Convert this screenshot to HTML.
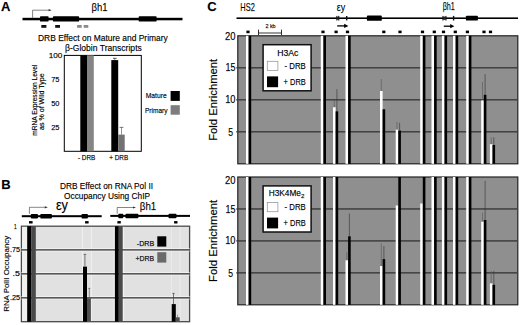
<!DOCTYPE html>
<html><head><meta charset="utf-8"><style>
html,body{margin:0;padding:0;background:#fff;width:520px;height:325px;overflow:hidden}
svg{display:block}
text{font-family:"Liberation Sans", sans-serif;stroke:#000;stroke-width:0.25px;stroke-opacity:0.6}
</style></head><body>
<svg width="520" height="325" viewBox="0 0 520 325">
<text x="0.90" y="10.80" font-size="13" fill="#000" text-anchor="start" font-weight="bold" >A</text>
<rect x="22.50" y="17.80" width="160.00" height="2.50" fill="#000" />
<rect x="40.00" y="16.20" width="8.60" height="5.40" rx="0.9" fill="#000"/>
<rect x="52.90" y="16.20" width="26.20" height="5.40" rx="0.9" fill="#000"/>
<rect x="138.70" y="16.20" width="17.90" height="5.40" rx="0.9" fill="#000"/>
<polyline points="32.60,17.80 32.60,10.20 49.60,10.20" fill="none" stroke="#333" stroke-width="0.6"/>
<path d="M51.60,10.20 L48.60,9.10 L48.60,11.30 Z" fill="#333"/>
<text x="91.60" y="10.90" font-size="11" fill="#000" text-anchor="start" font-weight="normal" textLength="16.00" lengthAdjust="spacingAndGlyphs" >βh1</text>
<rect x="41.30" y="25.00" width="5.10" height="2.80" fill="#111" />
<rect x="55.20" y="25.00" width="4.80" height="2.80" fill="#111" />
<rect x="77.10" y="25.00" width="4.60" height="2.80" fill="#8a8a8a" />
<rect x="83.70" y="25.00" width="4.60" height="2.80" fill="#8a8a8a" />
<text x="38.00" y="40.60" font-size="8.8" fill="#000" text-anchor="start" font-weight="normal" textLength="129.80" lengthAdjust="spacingAndGlyphs" >DRB Effect on Mature and Primary</text>
<text x="65.00" y="50.70" font-size="8.8" fill="#000" text-anchor="start" font-weight="normal" textLength="76.80" lengthAdjust="spacingAndGlyphs" >β-Globin Transcripts</text>
<rect x="64.30" y="55.40" width="77.00" height="95.90" fill="#fff" stroke="#000" stroke-width="1"/>
<text x="48.70" y="58.30" font-size="7.7" fill="#000" text-anchor="start" font-weight="normal" textLength="13.70" lengthAdjust="spacingAndGlyphs" >100</text>
<text x="51.20" y="82.00" font-size="7.7" fill="#000" text-anchor="start" font-weight="normal" textLength="8.30" lengthAdjust="spacingAndGlyphs" >75</text>
<text x="51.20" y="106.00" font-size="7.7" fill="#000" text-anchor="start" font-weight="normal" textLength="8.30" lengthAdjust="spacingAndGlyphs" >50</text>
<text x="51.20" y="130.00" font-size="7.7" fill="#000" text-anchor="start" font-weight="normal" textLength="8.30" lengthAdjust="spacingAndGlyphs" >25</text>
<rect x="80.30" y="55.40" width="6.70" height="95.90" fill="#000" />
<rect x="87.00" y="55.40" width="6.80" height="95.90" fill="#858585" />
<rect x="111.30" y="60.10" width="6.90" height="91.20" fill="#000" />
<rect x="118.20" y="134.60" width="6.50" height="16.70" fill="#727272" />
<line x1="114.80" y1="58.30" x2="114.80" y2="60.10" stroke="#333" stroke-width="0.6" />
<line x1="113.00" y1="58.30" x2="116.60" y2="58.30" stroke="#333" stroke-width="0.8" />
<line x1="121.50" y1="127.40" x2="121.50" y2="134.60" stroke="#666" stroke-width="0.7" />
<line x1="119.60" y1="127.40" x2="123.40" y2="127.40" stroke="#555" stroke-width="0.8" />
<text x="77.90" y="159.50" font-size="6.5" fill="#000" text-anchor="start" font-weight="normal" textLength="17.50" lengthAdjust="spacingAndGlyphs" >- DRB</text>
<text x="109.20" y="159.50" font-size="6.5" fill="#000" text-anchor="start" font-weight="normal" textLength="19.00" lengthAdjust="spacingAndGlyphs" >+ DRB</text>
<text x="145.70" y="98.40" font-size="7.8" fill="#000" text-anchor="start" font-weight="normal" textLength="21.00" lengthAdjust="spacingAndGlyphs" >Mature</text>
<rect x="170.60" y="91.00" width="9.20" height="9.90" fill="#000" />
<text x="145.00" y="112.80" font-size="7.8" fill="#000" text-anchor="start" font-weight="normal" textLength="22.50" lengthAdjust="spacingAndGlyphs" >Primary</text>
<rect x="170.60" y="105.20" width="9.20" height="9.50" fill="#7d7d7d" />
<text transform="translate(36.80,100.20) rotate(-90)" x="-35.50" y="0" font-size="6.3" fill="#000" textLength="71.00" lengthAdjust="spacingAndGlyphs">mRNA Expression Level</text>
<text transform="translate(44.40,101.70) rotate(-90)" x="-28.30" y="0" font-size="6.3" fill="#000" textLength="56.60" lengthAdjust="spacingAndGlyphs">as % of Wild Type</text>
<text x="1.20" y="189.30" font-size="13" fill="#000" text-anchor="start" font-weight="bold" >B</text>
<text x="60.00" y="188.70" font-size="8.8" fill="#000" text-anchor="start" font-weight="normal" textLength="93.00" lengthAdjust="spacingAndGlyphs" >DRB Effect on RNA Pol II</text>
<text x="64.10" y="198.80" font-size="8.8" fill="#000" text-anchor="start" font-weight="normal" textLength="85.90" lengthAdjust="spacingAndGlyphs" >Occupancy Using ChIP</text>
<rect x="21.80" y="215.20" width="79.90" height="2.00" fill="#000" />
<rect x="30.80" y="213.90" width="7.20" height="4.60" rx="0.9" fill="#000"/>
<rect x="40.30" y="213.90" width="11.60" height="4.60" rx="0.9" fill="#000"/>
<rect x="81.50" y="213.90" width="6.40" height="4.60" rx="0.9" fill="#000"/>
<polyline points="29.40,213.90 29.40,207.30 45.80,207.30" fill="none" stroke="#333" stroke-width="0.6"/>
<path d="M47.80,207.30 L44.80,206.20 L44.80,208.40 Z" fill="#333"/>
<text x="55.90" y="209.80" font-size="14" fill="#000" text-anchor="start" font-weight="normal" textLength="12.10" lengthAdjust="spacingAndGlyphs" >εy</text>
<rect x="29.00" y="221.10" width="3.60" height="2.40" fill="#000" />
<rect x="85.10" y="221.10" width="3.50" height="2.40" fill="#000" />
<rect x="110.30" y="214.90" width="79.70" height="2.00" fill="#000" />
<rect x="118.30" y="213.80" width="5.00" height="4.40" rx="0.9" fill="#000"/>
<rect x="125.40" y="213.80" width="13.00" height="4.40" rx="0.9" fill="#000"/>
<rect x="168.50" y="213.80" width="8.00" height="4.40" rx="0.9" fill="#000"/>
<polyline points="117.20,213.80 117.20,207.50 134.00,207.50" fill="none" stroke="#333" stroke-width="0.6"/>
<path d="M136.00,207.50 L133.00,206.40 L133.00,208.60 Z" fill="#333"/>
<text x="139.80" y="209.80" font-size="11" fill="#000" text-anchor="start" font-weight="normal" textLength="16.40" lengthAdjust="spacingAndGlyphs" >βh1</text>
<rect x="117.40" y="221.10" width="3.40" height="2.40" fill="#000" />
<rect x="174.10" y="221.10" width="3.40" height="2.40" fill="#000" />
<rect x="21.40" y="226.20" width="168.20" height="95.50" fill="#e1e1e1" stroke="#4a4a4a" stroke-width="1.3"/>
<rect x="82.20" y="226.90" width="0.80" height="94.10" fill="#f4f4f4" />
<rect x="90.90" y="226.90" width="0.80" height="94.10" fill="#f4f4f4" />
<rect x="171.00" y="226.90" width="0.70" height="94.10" fill="#f0f0f0" />
<rect x="179.70" y="226.90" width="0.70" height="94.10" fill="#f0f0f0" />
<rect x="113.60" y="226.90" width="1.30" height="94.10" fill="#f0f0f0" />
<rect x="122.70" y="226.90" width="1.40" height="94.10" fill="#f0f0f0" />
<rect x="22.10" y="226.90" width="5.10" height="94.10" fill="#f0f0f0" />
<rect x="21.40" y="248.25" width="168.20" height="0.80" fill="#f3f3f3" />
<rect x="21.40" y="250.65" width="168.20" height="0.80" fill="#f3f3f3" />
<rect x="21.40" y="249.05" width="168.20" height="1.60" fill="#595959" />
<rect x="21.40" y="272.20" width="168.20" height="0.80" fill="#f3f3f3" />
<rect x="21.40" y="274.60" width="168.20" height="0.80" fill="#f3f3f3" />
<rect x="21.40" y="273.00" width="168.20" height="1.60" fill="#595959" />
<rect x="21.40" y="296.20" width="168.20" height="0.80" fill="#f3f3f3" />
<rect x="21.40" y="298.60" width="168.20" height="0.80" fill="#f3f3f3" />
<rect x="21.40" y="297.00" width="168.20" height="1.60" fill="#595959" />
<rect x="27.20" y="226.20" width="4.30" height="95.50" fill="#000" />
<rect x="31.50" y="226.20" width="4.30" height="95.50" fill="#4a4a4a" />
<rect x="83.00" y="266.60" width="4.00" height="55.10" fill="#000" />
<rect x="87.00" y="298.20" width="3.90" height="23.50" fill="#505050" />
<line x1="84.90" y1="254.40" x2="84.90" y2="266.20" stroke="#444" stroke-width="0.7" />
<line x1="83.60" y1="254.40" x2="86.20" y2="254.40" stroke="#444" stroke-width="0.7" />
<line x1="89.30" y1="288.40" x2="89.30" y2="298.00" stroke="#666" stroke-width="0.7" />
<line x1="88.20" y1="288.40" x2="90.40" y2="288.40" stroke="#666" stroke-width="0.7" />
<rect x="114.90" y="226.20" width="3.90" height="95.50" fill="#000" />
<rect x="118.80" y="226.20" width="3.90" height="95.50" fill="#4a4a4a" />
<rect x="171.70" y="304.10" width="4.10" height="17.60" fill="#000" />
<rect x="175.80" y="317.30" width="3.90" height="4.40" fill="#505050" />
<line x1="173.50" y1="293.40" x2="173.50" y2="304.10" stroke="#444" stroke-width="0.7" />
<line x1="172.30" y1="293.40" x2="174.70" y2="293.40" stroke="#444" stroke-width="0.7" />
<line x1="177.50" y1="314.50" x2="177.50" y2="317.30" stroke="#666" stroke-width="0.6" />
<text x="13.90" y="228.90" font-size="6.6" fill="#000" text-anchor="start" font-weight="normal" textLength="2.70" lengthAdjust="spacingAndGlyphs" >1</text>
<text x="9.90" y="252.30" font-size="6.5" fill="#000" text-anchor="start" font-weight="normal" textLength="10.10" lengthAdjust="spacingAndGlyphs" >.75</text>
<text x="12.60" y="276.30" font-size="6.5" fill="#000" text-anchor="start" font-weight="normal" textLength="7.40" lengthAdjust="spacingAndGlyphs" >.5</text>
<text x="9.90" y="300.20" font-size="6.5" fill="#000" text-anchor="start" font-weight="normal" textLength="10.10" lengthAdjust="spacingAndGlyphs" >.25</text>
<text x="136.80" y="245.50" font-size="8.1" fill="#000" text-anchor="start" font-weight="normal" textLength="17.40" lengthAdjust="spacingAndGlyphs" >-DRB</text>
<rect x="157.30" y="236.30" width="9.00" height="10.30" fill="#000" />
<text x="135.50" y="260.80" font-size="8.1" fill="#000" text-anchor="start" font-weight="normal" textLength="18.70" lengthAdjust="spacingAndGlyphs" >+DRB</text>
<rect x="157.30" y="252.20" width="9.00" height="10.40" fill="#6a6a6a" />
<text transform="translate(8.70,273.80) rotate(-90)" x="-38.00" y="0" font-size="7.8" fill="#000" textLength="76.00" lengthAdjust="spacingAndGlyphs">RNA PolII Occupancy</text>
<text x="207.30" y="10.90" font-size="13" fill="#000" text-anchor="start" font-weight="bold" >C</text>
<text x="240.30" y="10.60" font-size="11.6" fill="#000" text-anchor="start" font-weight="normal" textLength="14.50" lengthAdjust="spacingAndGlyphs" >HS2</text>
<rect x="236.50" y="17.40" width="281.50" height="1.60" fill="#000" />
<rect x="336.30" y="15.90" width="1.10" height="4.60" fill="#111" />
<rect x="338.20" y="15.90" width="1.10" height="4.60" fill="#111" />
<rect x="337.20" y="16.80" width="1.20" height="2.80" fill="#222" />
<rect x="346.00" y="16.00" width="1.40" height="4.40" fill="#111" />
<rect x="366.90" y="15.50" width="14.90" height="5.30" rx="0.9" fill="#000"/>
<rect x="442.40" y="15.90" width="1.10" height="4.60" fill="#111" />
<rect x="445.40" y="15.90" width="1.10" height="4.60" fill="#111" />
<rect x="443.30" y="16.60" width="2.30" height="3.20" fill="#222" />
<rect x="452.90" y="15.90" width="1.40" height="4.60" fill="#111" />
<rect x="465.90" y="15.70" width="12.00" height="4.90" rx="0.9" fill="#000"/>
<text x="336.70" y="10.70" font-size="10.5" fill="#000" text-anchor="start" font-weight="normal" textLength="8.50" lengthAdjust="spacingAndGlyphs" >εy</text>
<text x="442.70" y="10.00" font-size="10.8" fill="#000" text-anchor="start" font-weight="normal" textLength="12.10" lengthAdjust="spacingAndGlyphs" >βh1</text>
<line x1="337.20" y1="25.90" x2="345.50" y2="25.90" stroke="#000" stroke-width="1.3" />
<path d="M348.4,25.9 L344.2,23.8 L344.2,28.0 Z" fill="#000"/>
<line x1="443.80" y1="26.20" x2="451.50" y2="26.20" stroke="#000" stroke-width="1.3" />
<path d="M454.4,26.2 L450.2,24.1 L450.2,28.3 Z" fill="#000"/>
<line x1="258.50" y1="33.00" x2="281.50" y2="33.00" stroke="#000" stroke-width="0.8" />
<line x1="258.50" y1="29.60" x2="258.50" y2="35.00" stroke="#000" stroke-width="0.8" />
<line x1="281.50" y1="29.60" x2="281.50" y2="35.00" stroke="#000" stroke-width="0.8" />
<text x="265.40" y="27.50" font-size="6.0" fill="#000" text-anchor="start" font-weight="normal" textLength="10.20" lengthAdjust="spacingAndGlyphs" >2 kb</text>
<rect x="246.40" y="30.60" width="3.20" height="2.60" fill="#000" />
<rect x="321.40" y="30.60" width="3.20" height="2.60" fill="#000" />
<rect x="334.50" y="30.60" width="3.20" height="2.60" fill="#000" />
<rect x="345.90" y="30.60" width="3.20" height="2.60" fill="#000" />
<rect x="382.20" y="30.60" width="3.20" height="2.60" fill="#000" />
<rect x="398.40" y="30.60" width="3.20" height="2.60" fill="#000" />
<rect x="420.90" y="30.60" width="3.20" height="2.60" fill="#000" />
<rect x="432.70" y="30.60" width="3.20" height="2.60" fill="#000" />
<rect x="441.90" y="30.60" width="3.20" height="2.60" fill="#000" />
<rect x="453.70" y="30.60" width="3.20" height="2.60" fill="#000" />
<rect x="465.80" y="30.60" width="3.20" height="2.60" fill="#000" />
<rect x="482.40" y="30.60" width="3.20" height="2.60" fill="#000" />
<rect x="488.90" y="30.60" width="3.20" height="2.60" fill="#000" />
<rect x="237.80" y="35.80" width="280.00" height="128.00" fill="#8f8f8f" stroke="#222" stroke-width="1.2"/>
<rect x="236.30" y="67.10" width="281.50" height="1.40" fill="#3a3a3a" />
<rect x="236.30" y="99.10" width="281.50" height="1.40" fill="#3a3a3a" />
<rect x="236.30" y="131.10" width="281.50" height="1.40" fill="#3a3a3a" />
<rect x="246.00" y="35.80" width="2.60" height="128.00" fill="#fff" />
<rect x="248.60" y="35.80" width="2.60" height="128.00" fill="#000" />
<rect x="320.80" y="35.80" width="2.60" height="128.00" fill="#fff" />
<rect x="323.40" y="35.80" width="2.60" height="128.00" fill="#000" />
<line x1="334.30" y1="100.70" x2="334.30" y2="107.29" stroke="#555" stroke-width="0.6" />
<rect x="333.00" y="107.29" width="2.60" height="56.51" fill="#fff" />
<line x1="336.90" y1="89.11" x2="336.90" y2="111.32" stroke="#333" stroke-width="0.6" />
<rect x="335.60" y="111.32" width="2.60" height="52.48" fill="#000" />
<rect x="345.50" y="35.80" width="2.60" height="128.00" fill="#fff" />
<rect x="348.10" y="35.80" width="2.60" height="128.00" fill="#000" />
<line x1="381.30" y1="79.00" x2="381.30" y2="91.00" stroke="#555" stroke-width="0.6" />
<rect x="380.00" y="91.00" width="2.60" height="72.80" fill="#fff" />
<rect x="382.60" y="109.27" width="2.60" height="54.53" fill="#000" />
<line x1="397.00" y1="121.88" x2="397.00" y2="129.69" stroke="#555" stroke-width="0.6" />
<rect x="395.70" y="129.69" width="2.60" height="34.11" fill="#fff" />
<line x1="399.60" y1="122.84" x2="399.60" y2="130.52" stroke="#333" stroke-width="0.6" />
<rect x="398.30" y="130.52" width="2.60" height="33.28" fill="#000" />
<rect x="420.20" y="35.80" width="2.60" height="128.00" fill="#fff" />
<rect x="422.80" y="35.80" width="2.60" height="128.00" fill="#000" />
<rect x="431.50" y="35.80" width="2.60" height="128.00" fill="#fff" />
<rect x="434.10" y="35.80" width="2.60" height="128.00" fill="#000" />
<rect x="441.90" y="35.80" width="2.60" height="128.00" fill="#fff" />
<rect x="444.50" y="35.80" width="2.60" height="128.00" fill="#000" />
<rect x="453.00" y="35.80" width="2.60" height="128.00" fill="#fff" />
<rect x="455.60" y="35.80" width="2.60" height="128.00" fill="#000" />
<rect x="466.20" y="35.80" width="2.60" height="128.00" fill="#fff" />
<rect x="468.80" y="35.80" width="2.60" height="128.00" fill="#000" />
<line x1="482.50" y1="82.01" x2="482.50" y2="100.44" stroke="#555" stroke-width="0.6" />
<rect x="481.20" y="100.44" width="2.60" height="63.36" fill="#fff" />
<line x1="485.10" y1="74.20" x2="485.10" y2="94.81" stroke="#333" stroke-width="0.6" />
<rect x="483.80" y="94.81" width="2.60" height="68.99" fill="#000" />
<line x1="491.20" y1="137.30" x2="491.20" y2="144.22" stroke="#555" stroke-width="0.6" />
<rect x="489.90" y="144.22" width="2.60" height="19.58" fill="#fff" />
<line x1="493.80" y1="137.30" x2="493.80" y2="144.98" stroke="#333" stroke-width="0.6" />
<rect x="492.50" y="144.98" width="2.60" height="18.82" fill="#000" />
<text x="225.00" y="39.70" font-size="10.0" fill="#000" text-anchor="start" font-weight="normal" textLength="10.50" lengthAdjust="spacingAndGlyphs" >20</text>
<text x="225.60" y="71.40" font-size="10.0" fill="#000" text-anchor="start" font-weight="normal" textLength="9.90" lengthAdjust="spacingAndGlyphs" >15</text>
<text x="225.20" y="103.10" font-size="10.0" fill="#000" text-anchor="start" font-weight="normal" textLength="10.30" lengthAdjust="spacingAndGlyphs" >10</text>
<text x="228.30" y="135.70" font-size="10.0" fill="#000" text-anchor="start" font-weight="normal" textLength="4.80" lengthAdjust="spacingAndGlyphs" >5</text>
<rect x="263.10" y="44.70" width="48.00" height="46.10" fill="#fff" stroke="#111" stroke-width="1.5"/>
<rect x="267.30" y="61.30" width="10.60" height="9.20" fill="#fff" stroke="#999" stroke-width="0.8"/>
<rect x="267.00" y="76.40" width="11.10" height="10.80" fill="#000" />
<text x="284.60" y="68.80" font-size="8.6" fill="#000" text-anchor="start" font-weight="normal" textLength="21.20" lengthAdjust="spacingAndGlyphs" >- DRB</text>
<text x="283.60" y="84.60" font-size="8.6" fill="#000" text-anchor="start" font-weight="normal" textLength="22.20" lengthAdjust="spacingAndGlyphs" >+ DRB</text>
<text x="277.20" y="56.30" font-size="8.2" fill="#000" text-anchor="start" font-weight="normal" textLength="21.20" lengthAdjust="spacingAndGlyphs" >H3Ac</text>
<text transform="translate(217.20,99.80) rotate(-90)" x="-41.00" y="0" font-size="10" fill="#000" textLength="82.00" lengthAdjust="spacingAndGlyphs">Fold Enrichment</text>
<rect x="237.80" y="177.00" width="280.00" height="127.80" fill="#8f8f8f" stroke="#222" stroke-width="1.2"/>
<rect x="236.30" y="208.25" width="281.50" height="1.40" fill="#3a3a3a" />
<rect x="236.30" y="240.20" width="281.50" height="1.40" fill="#3a3a3a" />
<rect x="236.30" y="272.15" width="281.50" height="1.40" fill="#3a3a3a" />
<rect x="246.00" y="177.00" width="2.60" height="127.80" fill="#fff" />
<rect x="248.60" y="177.00" width="2.60" height="127.80" fill="#000" />
<rect x="320.80" y="177.00" width="2.60" height="127.80" fill="#fff" />
<rect x="323.40" y="177.00" width="2.60" height="127.80" fill="#000" />
<rect x="333.00" y="177.00" width="2.60" height="127.80" fill="#fff" />
<rect x="335.60" y="177.00" width="2.60" height="127.80" fill="#000" />
<line x1="346.80" y1="252.40" x2="346.80" y2="260.33" stroke="#555" stroke-width="0.6" />
<rect x="345.50" y="260.33" width="2.60" height="44.47" fill="#fff" />
<line x1="349.40" y1="213.49" x2="349.40" y2="236.30" stroke="#333" stroke-width="0.6" />
<rect x="348.10" y="236.30" width="2.60" height="68.50" fill="#000" />
<line x1="381.30" y1="243.58" x2="381.30" y2="266.08" stroke="#555" stroke-width="0.6" />
<rect x="380.00" y="266.08" width="2.60" height="38.72" fill="#fff" />
<line x1="383.90" y1="246.01" x2="383.90" y2="259.11" stroke="#333" stroke-width="0.6" />
<rect x="382.60" y="259.11" width="2.60" height="45.69" fill="#000" />
<rect x="395.70" y="205.50" width="2.60" height="99.30" fill="#fff" />
<rect x="398.30" y="177.00" width="2.60" height="127.80" fill="#000" />
<rect x="420.20" y="203.52" width="2.60" height="101.28" fill="#fff" />
<rect x="422.80" y="177.00" width="2.60" height="127.80" fill="#000" />
<rect x="431.50" y="177.00" width="2.60" height="127.80" fill="#fff" />
<rect x="434.10" y="177.00" width="2.60" height="127.80" fill="#000" />
<rect x="441.90" y="177.00" width="2.60" height="127.80" fill="#fff" />
<rect x="444.50" y="177.00" width="2.60" height="127.80" fill="#000" />
<rect x="453.00" y="177.00" width="2.60" height="127.80" fill="#fff" />
<rect x="455.60" y="177.00" width="2.60" height="127.80" fill="#000" />
<rect x="466.20" y="177.00" width="2.60" height="127.80" fill="#fff" />
<rect x="468.80" y="177.00" width="2.60" height="127.80" fill="#000" />
<line x1="482.50" y1="212.78" x2="482.50" y2="221.73" stroke="#555" stroke-width="0.6" />
<rect x="481.20" y="221.73" width="2.60" height="83.07" fill="#fff" />
<line x1="485.10" y1="180.83" x2="485.10" y2="220.00" stroke="#333" stroke-width="0.6" />
<rect x="483.80" y="220.00" width="2.60" height="84.80" fill="#000" />
<line x1="491.20" y1="270.93" x2="491.20" y2="283.39" stroke="#555" stroke-width="0.6" />
<rect x="489.90" y="283.39" width="2.60" height="21.41" fill="#fff" />
<line x1="493.80" y1="270.93" x2="493.80" y2="284.80" stroke="#333" stroke-width="0.6" />
<rect x="492.50" y="284.80" width="2.60" height="20.00" fill="#000" />
<text x="225.00" y="183.70" font-size="10.0" fill="#000" text-anchor="start" font-weight="normal" textLength="10.50" lengthAdjust="spacingAndGlyphs" >20</text>
<text x="225.60" y="212.60" font-size="10.0" fill="#000" text-anchor="start" font-weight="normal" textLength="9.90" lengthAdjust="spacingAndGlyphs" >15</text>
<text x="225.20" y="243.80" font-size="10.0" fill="#000" text-anchor="start" font-weight="normal" textLength="10.30" lengthAdjust="spacingAndGlyphs" >10</text>
<text x="228.30" y="276.80" font-size="10.0" fill="#000" text-anchor="start" font-weight="normal" textLength="4.80" lengthAdjust="spacingAndGlyphs" >5</text>
<rect x="263.10" y="185.90" width="48.00" height="46.10" fill="#fff" stroke="#111" stroke-width="1.5"/>
<rect x="267.30" y="202.50" width="10.60" height="9.20" fill="#fff" stroke="#999" stroke-width="0.8"/>
<rect x="267.00" y="217.60" width="11.10" height="10.80" fill="#000" />
<text x="284.60" y="210.00" font-size="8.6" fill="#000" text-anchor="start" font-weight="normal" textLength="21.20" lengthAdjust="spacingAndGlyphs" >- DRB</text>
<text x="283.60" y="225.80" font-size="8.6" fill="#000" text-anchor="start" font-weight="normal" textLength="22.20" lengthAdjust="spacingAndGlyphs" >+ DRB</text>
<text x="268.70" y="196.20" font-size="8.2" fill="#000" text-anchor="start" font-weight="normal" textLength="32.20" lengthAdjust="spacingAndGlyphs" >H3K4Me</text>
<text x="301.10" y="198.30" font-size="6.2" fill="#000" text-anchor="start" font-weight="normal" >2</text>
<text transform="translate(217.20,240.90) rotate(-90)" x="-41.00" y="0" font-size="10" fill="#000" textLength="82.00" lengthAdjust="spacingAndGlyphs">Fold Enrichment</text>
</svg>
</body></html>
